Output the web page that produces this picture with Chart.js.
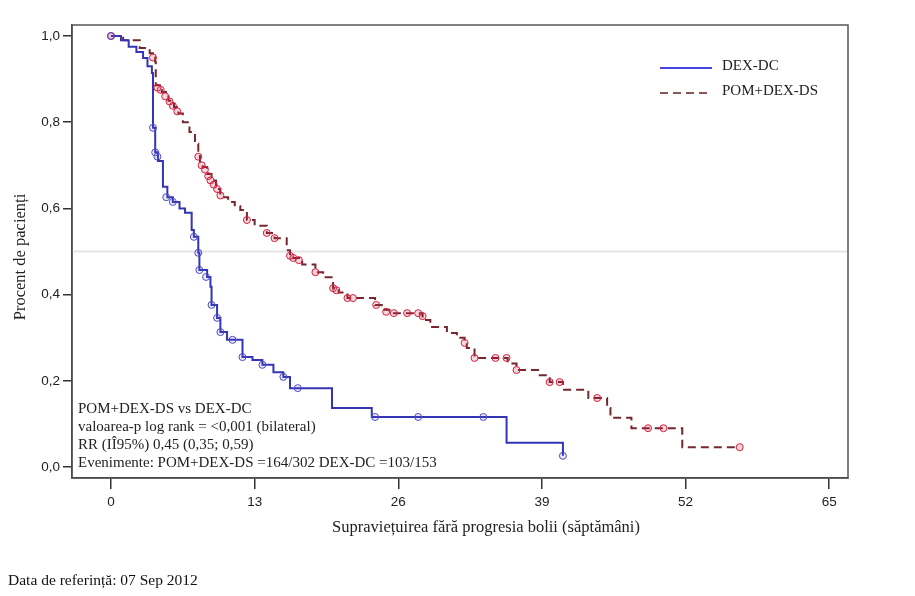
<!DOCTYPE html>
<html>
<head>
<meta charset="utf-8">
<script src="https://cdn.jsdelivr.net/npm/chart.js@4.4.1/dist/chart.umd.min.js"></script>
<style>
  body { margin: 0; background: #fff; }
  #wrap { position: relative; width: 915px; height: 596px; }
  #note { position: absolute; left: 8px; top: 571px; font: 15.5px "Liberation Serif", serif; color: #111; }
</style>
</head>
<body>
<div id="wrap">
  <canvas id="kmChart" width="915" height="596"></canvas>
  <div id="note">Data de referință: 07 Sep 2012</div>
</div>
<script>
// DEX-DC (blue, solid): week of each step and survival after it
var dexWeeks = [0, 0.9, 1.6, 2.3, 2.9, 3.3, 3.7, 3.8, 4.0, 4.25, 4.7, 5.1, 5.6, 6.2, 6.7, 7.3, 7.5, 7.9, 8.0, 8.7, 9.0, 9.1, 9.6, 9.9, 10.5, 11.9, 12.8, 13.7, 14.7, 15.6, 16.2, 20.0, 23.6, 35.8, 40.9];
var dexSurv  = [1.0, 0.99, 0.975, 0.963, 0.949, 0.93, 0.914, 0.787, 0.73, 0.71, 0.65, 0.626, 0.615, 0.60, 0.59, 0.55, 0.534, 0.497, 0.457, 0.441, 0.418, 0.376, 0.346, 0.313, 0.295, 0.255, 0.248, 0.237, 0.22, 0.209, 0.183, 0.137, 0.116, 0.056, 0.026];
var dexCensWeeks = [0, 3.8, 4.0, 4.2, 5.0, 5.6, 7.5, 7.9, 8.0, 8.6, 9.1, 9.6, 9.9, 11.0, 11.9, 13.7, 15.6, 16.9, 23.9, 27.8, 33.7, 40.9];
var dexCensSurv  = [1.0, 0.787, 0.73, 0.72, 0.626, 0.615, 0.534, 0.497, 0.457, 0.441, 0.376, 0.346, 0.313, 0.295, 0.255, 0.237, 0.209, 0.183, 0.116, 0.116, 0.116, 0.026];

// POM+DEX-DS (red, dashed)
var pomWeeks = [0, 1.1, 2.6, 3.5, 3.8, 4.0, 4.05, 4.6, 5.2, 5.7, 6.1, 6.5, 7.1, 7.6, 7.9, 8.05, 8.3, 8.7, 9.1, 9.5, 9.9, 10.6, 11.2, 11.7, 12.3, 13.0, 14.1, 14.8, 15.9, 16.2, 16.5, 17.3, 18.5, 19.2, 20.1, 20.6, 21.4, 23.9, 24.5, 25.2, 28.2, 28.9, 30.4, 31.3, 32.0, 32.2, 32.9, 35.9, 36.7, 38.8, 39.7, 40.9, 43.2, 44.9, 45.2, 47.1, 51.7, 56.9];
var pomSurv  = [1.0, 0.99, 0.972, 0.96, 0.95, 0.94, 0.886, 0.87, 0.85, 0.835, 0.82, 0.80, 0.777, 0.75, 0.728, 0.705, 0.696, 0.68, 0.665, 0.645, 0.626, 0.615, 0.605, 0.596, 0.573, 0.56, 0.543, 0.531, 0.503, 0.49, 0.485, 0.47, 0.452, 0.44, 0.415, 0.405, 0.392, 0.376, 0.365, 0.357, 0.341, 0.325, 0.311, 0.30, 0.288, 0.276, 0.253, 0.24, 0.225, 0.213, 0.197, 0.179, 0.16, 0.137, 0.114, 0.09, 0.046, 0.046];
var pomCensWeeks = [0, 3.8, 4.2, 4.5, 4.9, 5.3, 5.6, 6.0, 7.9, 8.2, 8.5, 8.8, 9.0, 9.3, 9.6, 9.9, 12.3, 14.1, 14.8, 16.2, 16.5, 17.0, 18.5, 20.1, 20.4, 21.4, 21.9, 24.0, 24.9, 25.6, 26.8, 27.8, 28.2, 32.0, 32.9, 34.8, 35.8, 36.7, 39.7, 40.6, 44.0, 48.6, 50.0, 56.9];
var pomCensSurv  = [1.0, 0.95, 0.88, 0.875, 0.86, 0.848, 0.838, 0.825, 0.72, 0.70, 0.69, 0.675, 0.665, 0.655, 0.645, 0.63, 0.573, 0.543, 0.531, 0.49, 0.485, 0.48, 0.452, 0.415, 0.41, 0.392, 0.392, 0.376, 0.36, 0.357, 0.357, 0.357, 0.35, 0.288, 0.253, 0.253, 0.253, 0.225, 0.197, 0.197, 0.16, 0.09, 0.09, 0.046];

var xTicks = [0, 13, 26, 39, 52, 65];
var yTicks = [0, 0.2, 0.4, 0.6, 0.8, 1.0];

var statLines = [
    "POM+DEX-DS vs DEX-DC",
    "valoarea-p log rank = <0,001 (bilateral)",
    "RR (IÎ95%) 0,45 (0,35; 0,59)",
    "Evenimente: POM+DEX-DS =164/302 DEX-DC =103/153"
];

var blue = "#3434b4";
var red = "#76262f";
var redMark = "#d21f3f";

function pts(xs, ys) {
    return xs.map(function (x, i) { return { x: x, y: ys[i] }; });
}

var serif = '"Liberation Serif", "Times New Roman", serif';

var decor = {
    id: "decor",
    beforeDatasetsDraw: function (chart) {
        var ctx = chart.ctx, a = chart.chartArea;
        var py = chart.scales.y.getPixelForValue(0.5);
        ctx.save();
        ctx.strokeStyle = "#e6e6e6";
        ctx.lineWidth = 2;
        ctx.beginPath();
        ctx.moveTo(a.left, py);
        ctx.lineTo(a.right, py);
        ctx.stroke();
        ctx.restore();
    },
    afterDraw: function (chart) {
        var ctx = chart.ctx, a = chart.chartArea;
        ctx.save();
        // frame
        ctx.strokeStyle = "#555";
        ctx.lineWidth = 1.5;
        ctx.strokeRect(a.left, a.top, a.right - a.left, a.bottom - a.top);

        // legend
        ctx.lineWidth = 2;
        ctx.strokeStyle = "#4646e0";
        ctx.beginPath(); ctx.moveTo(660, 68); ctx.lineTo(712, 68); ctx.stroke();
        ctx.strokeStyle = "#8a5656";
        ctx.setLineDash([8, 5]);
        ctx.beginPath(); ctx.moveTo(660, 93); ctx.lineTo(712, 93); ctx.stroke();
        ctx.setLineDash([]);
        ctx.fillStyle = "#222";
        ctx.font = "15px " + serif;
        ctx.textBaseline = "middle";
        ctx.textAlign = "left";
        ctx.fillText(chart.data.datasets[2].label, 722, 66);
        ctx.fillText(chart.data.datasets[3].label, 722, 91);

        // stats block
        ctx.font = "15px " + serif;
        statLines.forEach(function (s, i) {
            ctx.fillText(s, 78, 409 + i * 18);
        });

        // axis titles
        ctx.font = "16.5px " + serif;
        ctx.textAlign = "center";
        ctx.fillText("Supraviețuirea fără progresia bolii (săptămâni)", 486, 528);
        ctx.translate(21, 257);
        ctx.rotate(-Math.PI / 2);
        ctx.fillText("Procent de pacienți", 0, 0);
        ctx.restore();
    }
};

var ctx = document.getElementById("kmChart").getContext("2d");
var kmChart = new Chart(ctx, {
    type: "line",
    data: {
        datasets: [
            {
                label: "DEX-DC cenzurat",
                data: pts(dexCensWeeks, dexCensSurv),
                showLine: false,
                pointRadius: 3.5,
                pointBorderWidth: 1,
                pointBorderColor: "#4a4ac8",
                pointBackgroundColor: "rgba(80,80,200,0.12)"
            },
            {
                label: "POM+DEX-DS cenzurat",
                data: pts(pomCensWeeks, pomCensSurv),
                showLine: false,
                pointRadius: 3.5,
                pointBorderWidth: 1,
                pointBorderColor: redMark,
                pointBackgroundColor: "rgba(210,31,63,0.18)"
            },
            {
                label: "DEX-DC",
                data: pts(dexWeeks, dexSurv),
                borderColor: blue,
                borderWidth: 2,
                stepped: true,
                pointRadius: 0,
                fill: false
            },
            {
                label: "POM+DEX-DS",
                data: pts(pomWeeks, pomSurv),
                borderColor: red,
                borderWidth: 2,
                borderDash: [8, 5],
                stepped: true,
                pointRadius: 0,
                fill: false
            }
        ]
    },
    options: {
        responsive: false,
        animation: false,
        layout: { padding: { top: 25, right: 67, left: 0, bottom: 0 } },
        plugins: {
            legend: { display: false },
            tooltip: { enabled: false }
        },
        scales: {
            x: {
                type: "linear",
                min: -3.53,
                max: 66.7,
                afterBuildTicks: function (scale) {
                    scale.ticks = xTicks.map(function (v) { return { value: v }; });
                },
                afterFit: function (scale) { scale.height = 118; },
                grid: { drawOnChartArea: false, drawTicks: true, tickLength: 11, color: "#333", lineWidth: 1.5 },
                border: { display: true, color: "#333", width: 1.5 },
                ticks: {
                    padding: 5,
                    color: "#222",
                    font: { family: '"Liberation Sans", Arial, sans-serif', size: 13.5 }
                }
            },
            y: {
                min: -0.0255,
                max: 1.0255,
                afterBuildTicks: function (scale) {
                    scale.ticks = yTicks.map(function (v) { return { value: v }; });
                },
                afterFit: function (scale) { scale.width = 72; },
                grid: { drawOnChartArea: false, drawTicks: true, tickLength: 9, color: "#333", lineWidth: 1.5 },
                border: { display: true, color: "#333", width: 1.5 },
                ticks: {
                    padding: 3,
                    color: "#222",
                    font: { family: '"Liberation Sans", Arial, sans-serif', size: 13.5 },
                    callback: function (v) { return v.toFixed(1).replace(".", ","); }
                }
            }
        }
    },
    plugins: [decor]
});
</script>
</body>
</html>
